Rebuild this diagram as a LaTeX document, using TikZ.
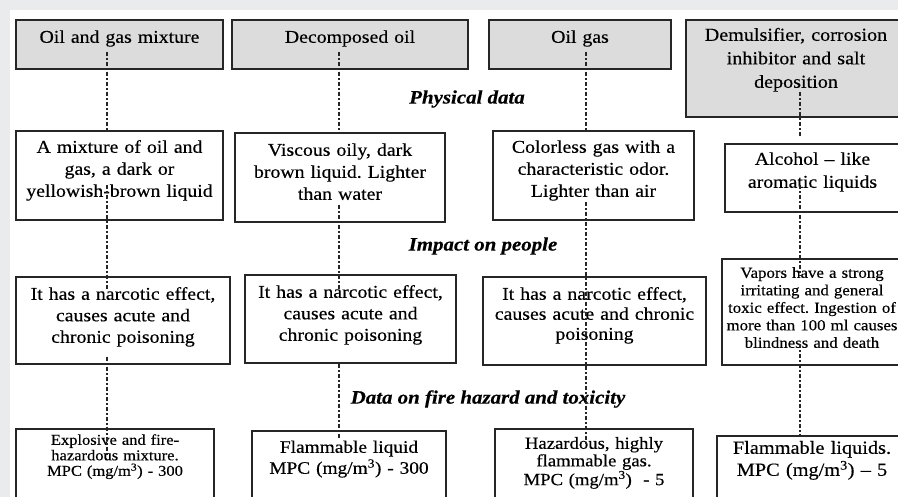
\documentclass[tikz,border=0pt]{standalone}
\usepackage{fontspec}
\setmainfont{Liberation Serif}[FakeStretch=1.1,FakeBold=0.35]
\definecolor{stripgray}{RGB}{233,235,236}
\definecolor{headgray}{RGB}{220,220,220}
\newcommand\fsmain{\fontsize{18}{22}\selectfont}
\frenchspacing

\begin{document}
\begin{tikzpicture}[x=1pt,y=-1pt,
    box/.style={draw=black!85,line width=1.6pt,anchor=north,inner sep=0pt,align=center,font=\fsmain},
    head/.style={box,fill=headgray},
    link/.style={draw=black!85,line width=1.3pt,dash pattern=on 4.5pt off 2pt on 1.5pt off 2pt},
    sect/.style={font=\fontsize{19}{22}\selectfont\bfseries\itshape}]
	\clip (0,0) rectangle (898,497);
	\fill[stripgray] (0,0) rectangle (898,497);
	\fill[white] (10,10) rectangle (898,497);
	% columns of the dotted links
	\coordinate (c1) at (107,0);
	\coordinate (c2) at (339,0);
	\coordinate (c3) at (586,0);
	\coordinate (c4) at (800,0);
	% substances
	\node[head,text width=207pt,text height=23pt,text depth=26pt] (H1) at (119.5,19) {Oil and gas mixture};
	\node[head,text width=236pt,text height=23pt,text depth=26pt] (H2) at (350,19) {Decomposed oil};
	\node[head,text width=182pt,text height=23pt,text depth=26pt] (H3) at (580,19) {Oil gas};
	\node[head,text width=220pt,text height=21pt,text depth=76pt,font=\fontsize{18.3}{23.5}\selectfont] (H4) at (796,19) {Demulsifier, corrosion\\inhibitor and salt\\deposition};
	\node[sect] (lphys) at (467,99) {Physical data};
	% physical data
	\node[box,text width=207pt,text height=22pt,text depth=67pt] (P1) at (119.5,130) {A mixture of oil and\\gas, a dark or\\yellowish-brown liquid};
	\node[box,text width=210pt,text height=23pt,text depth=66pt] (P2) at (340,132) {Viscous oily, dark\\brown liquid. Lighter\\than water};
	\node[box,text width=201pt,text height=22pt,text depth=67pt] (P3) at (593.5,130) {Colorless gas with a\\characteristic odor.\\Lighter than air};
	\node[box,text width=175pt,text height=21pt,text depth=47pt,font=\fontsize{18}{23}\selectfont] (P4) at (812.5,143) {Alcohol -- like\\aromatic liquids};
	\node[sect] (limp) at (483,246) {Impact on people};
	% impact on people
	\node[box,text width=214pt,text height=23pt,text depth=64pt,font=\fontsize{18}{21.5}\selectfont] (I1) at (123,276) {It has a narcotic effect,\\causes acute and\\chronic poisoning};
	\node[box,text width=211pt,text height=23pt,text depth=65pt,font=\fontsize{18}{21.5}\selectfont] (I2) at (350.5,274) {It has a narcotic effect,\\causes acute and\\chronic poisoning};
	\node[box,text width=223pt,text height=23pt,text depth=65pt,font=\fontsize{18}{20}\selectfont] (I3) at (594.5,276) {It has a narcotic effect,\\causes acute and chronic\\poisoning};
	\node[box,text width=180pt,text height=19pt,text depth=87pt,font=\fontsize{15.3}{17.5}\selectfont] (I4) at (812,258) {Vapors have a strong\\irritating and general\\toxic effect. Ingestion of\\more than 100 ml causes\\blindness and death};
	\node[sect] (lfire) at (488,399) {Data on fire hazard and toxicity};
	% fire hazard and toxicity
	\node[box,text width=198pt,text height=16pt,text depth=100pt,font=\fontsize{15}{15.5}\selectfont] (F1) at (115,428) {Explosive and fire-\\hazardous mixture.\\MPC (mg/m\textsuperscript{3}) - 300};
	\node[box,text width=194pt,text height=22pt,text depth=100pt,font=\fontsize{17.6}{21}\selectfont] (F2) at (349,430) {Flammable liquid\\MPC (mg/m\textsuperscript{3}) - 300};
	\node[box,text width=198pt,text height=20pt,text depth=100pt,font=\fontsize{17}{17.5}\selectfont] (F3) at (594,428) {Hazardous, highly\\flammable gas.\\MPC (mg/m\textsuperscript{3}) \ - 5};
	\node[box,text width=190pt,text height=18pt,text depth=100pt,font=\fontsize{18.5}{22}\selectfont] (F4) at (812,435) {Flammable liquids.\\MPC (mg/m\textsuperscript{3}) -- 5};
	% dotted links
	\draw[link,shorten <=-18pt] (c1 |- H1.south) -- (c1 |- P1.north);
	\draw[link,shorten <=-36pt,shorten >=-14pt] (c1 |- P1.south) -- (c1 |- I1.north);
	\draw[link,shorten <=-8pt,shorten >=-27pt] (c1 |- I1.south) -- (c1 |- F1.north);
	\draw[link,shorten <=-18pt] (c2 |- H2.south) -- (c2 |- P2.north);
	\draw[link,shorten <=-18pt,shorten >=-16pt] (c2 |- P2.south) -- (c2 |- I2.north);
	\draw[link,shorten >=-8pt] (c2 |- I2.south) -- (c2 |- F2.north);
	\draw[link,shorten <=-18pt] (c3 |- H3.south) -- (c3 |- P3.north);
	\draw[link,shorten <=-19pt,shorten >=-88pt] (c3 |- P3.south) -- (c3 |- I3.north);
	\draw[link,shorten >=-17pt] (c3 |- I3.south) -- (c3 |- F3.north);
	\draw[link,shorten <=-26pt,shorten >=5pt] (c4 |- H4.south) -- (c4 |- P4.north);
	\draw[link,shorten <=-28pt,shorten >=-17pt] (c4 |- P4.south) -- (c4 |- I4.north);
	\draw[link,shorten <=-22pt] (c4 |- I4.south) -- (c4 |- F4.north);
\end{tikzpicture}
\end{document}
